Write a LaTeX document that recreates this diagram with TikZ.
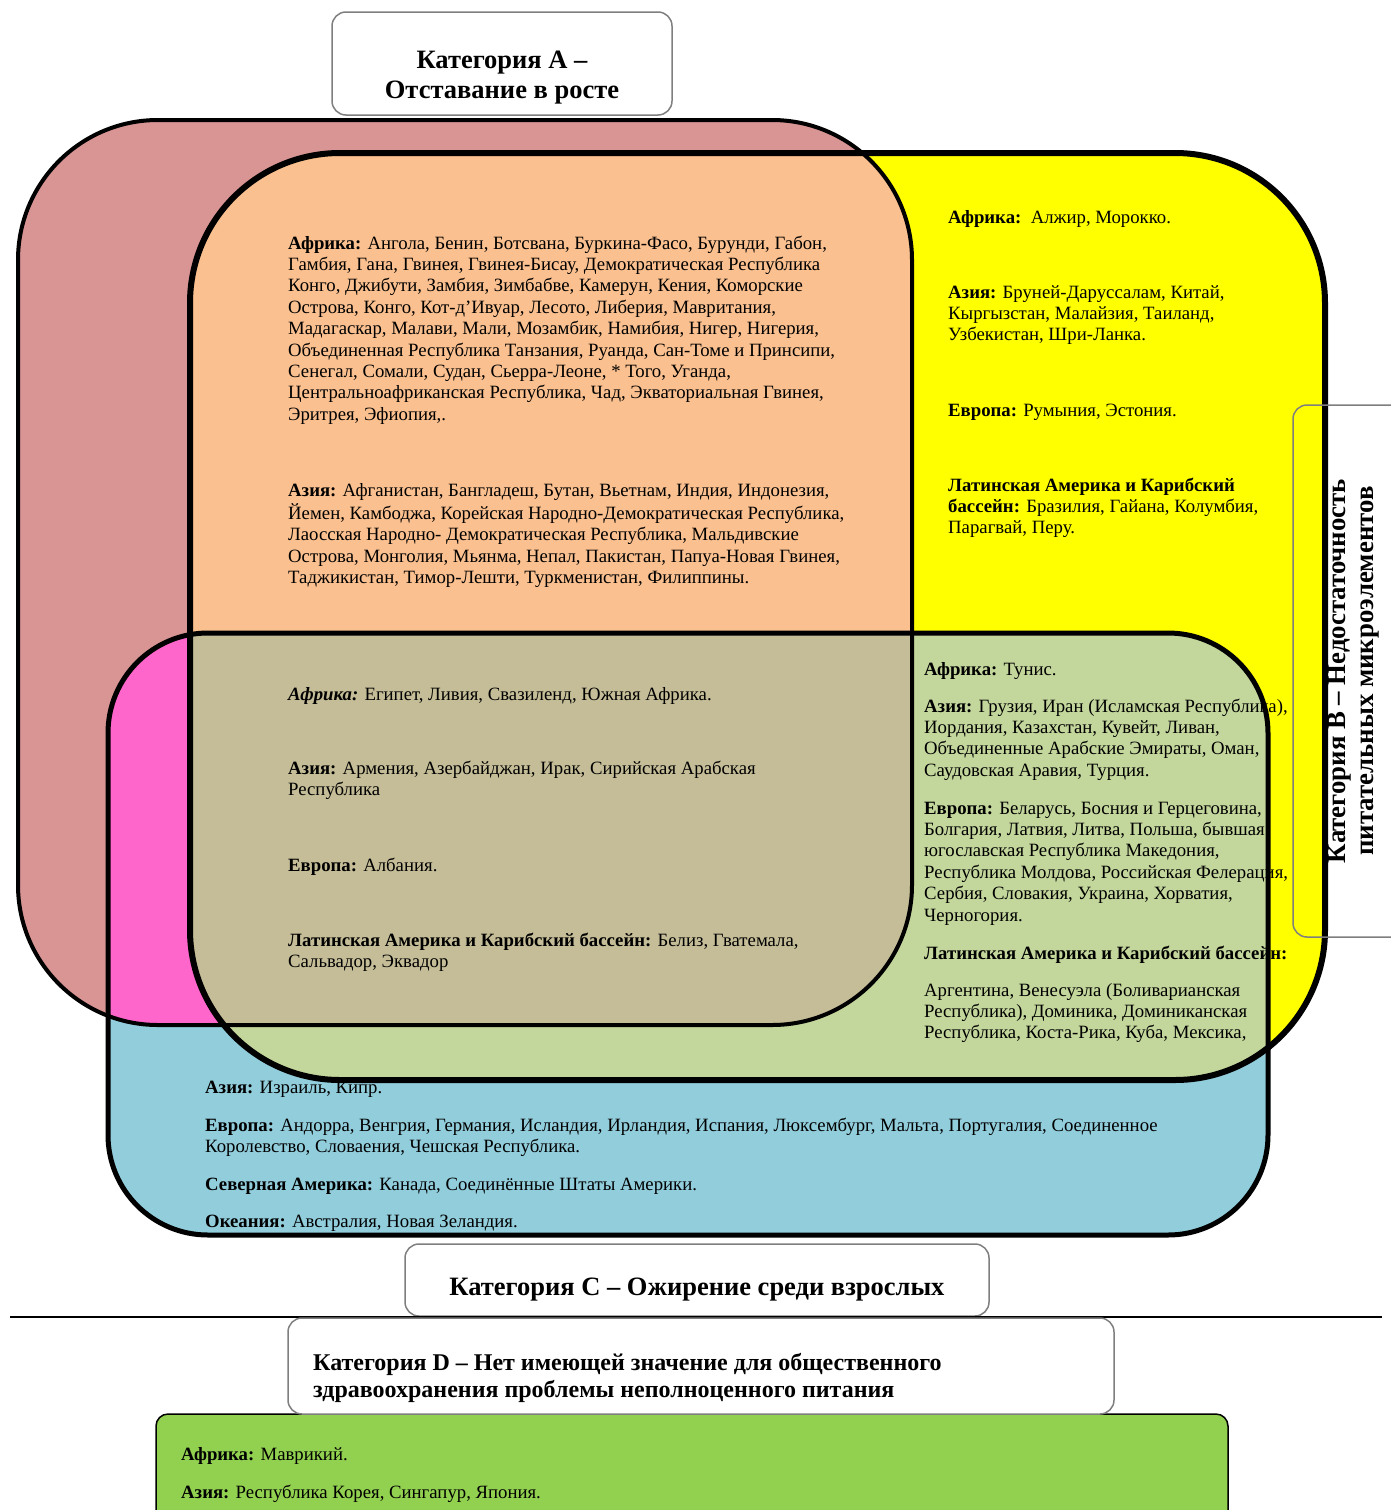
\documentclass[tikz,border=0pt]{standalone}
\usepackage{fontspec}
\setmainfont{Liberation Serif}
\definecolor{roseA}{HTML}{D99594}
\definecolor{orangeAB}{HTML}{FAC08F}
\definecolor{yellowB}{HTML}{FFFF00}
\definecolor{blueC}{HTML}{92CDDC}
\definecolor{magAC}{HTML}{FF66CC}
\definecolor{greenBC}{HTML}{C3D69B}
\definecolor{tanABC}{HTML}{C4BD97}
\definecolor{greenD}{HTML}{92D050}
\definecolor{boxgray}{HTML}{7F7F7F}
\begin{document}
\begin{tikzpicture}[x=1pt,y=-1pt,
  body/.style={anchor=north west, align=left, inner sep=0pt, font=\fontsize{18.75}{21.4}\selectfont},
  head/.style={align=center, inner sep=0pt, font=\fontsize{26.5}{30}\selectfont\bfseries},
  catbox/.style={draw=boxgray, line width=1.5pt, rounded corners=14pt},
  rA/.style={rounded corners=140pt},
  rB/.style={rounded corners=150pt},
  rC/.style={rounded corners=100pt}]
\clip (0,0) rectangle (1391,1510);
\fill[white] (0,0) rectangle (1391,1510);
% base fills
\fill[roseA,rA] (18,120) rectangle (912,1025);
\fill[yellowB,rB] (190,153) rectangle (1325,1080);
\fill[blueC,rC] (108,633) rectangle (1268,1235);
% A and B
\begin{scope}
\clip[rA] (18,120) rectangle (912,1025);
\fill[orangeAB,rB] (190,153) rectangle (1325,1080);
\end{scope}
% A and C
\begin{scope}
\clip[rA] (18,120) rectangle (912,1025);
\fill[magAC,rC] (108,633) rectangle (1268,1235);
\end{scope}
% B and C
\begin{scope}
\clip[rB] (190,153) rectangle (1325,1080);
\fill[greenBC,rC] (108,633) rectangle (1268,1235);
\end{scope}
% A, B and C
\begin{scope}
\clip[rA] (18,120) rectangle (912,1025);
\clip[rB] (190,153) rectangle (1325,1080);
\fill[tanABC,rC] (108,633) rectangle (1268,1235);
\end{scope}

% texts: A and B
\node[body] (abAfr) at (288,234) {\strut\textbf{Африка:} Ангола, Бенин, Ботсвана, Буркина-Фасо, Бурунди, Габон,\\
Гамбия, Гана, Гвинея, Гвинея-Бисау, Демократическая Республика\\
Конго, Джибути, Замбия, Зимбабве, Камерун, Кения, Коморские\\
Острова, Конго, Кот-д’Ивуар, Лесото, Либерия, Мавритания,\\
Мадагаскар, Малави, Мали, Мозамбик, Намибия, Нигер, Нигерия,\\
Объединенная Республика Танзания, Руанда, Сан-Томе и Принсипи,\\
Сенегал, Сомали, Судан, Сьерра-Леоне, * Того, Уганда,\\
Центральноафриканская Республика, Чад, Экваториальная Гвинея,\\
Эритрея, Эфиопия,.};
\node[body] (abAsia) at (288,481) {\strut\textbf{Азия:} Афганистан, Бангладеш, Бутан, Вьетнам, Индия, Индонезия,\\
Йемен, Камбоджа, Корейская Народно-Демократическая Республика,\\
Лаосская Народно- Демократическая Республика, Мальдивские\\
Острова, Монголия, Мьянма, Непал, Пакистан, Папуа-Новая Гвинея,\\
Таджикистан, Тимор-Лешти, Туркменистан, Филиппины.};
% B only
\node[body] (bAfr) at (948,208) {\strut\textbf{Африка:}\ \ Алжир, Морокко.};
\node[body] (bAsia) at (948,283) {\strut\textbf{Азия:} Бруней-Даруссалам, Китай,\\
Кыргызстан, Малайзия, Таиланд,\\
Узбекистан, Шри-Ланка.};
\node[body] (bEur) at (948,401) {\strut\textbf{Европа:} Румыния, Эстония.};
\node[body] (bLat) at (948,476) {\strut\textbf{Латинская Америка и Карибский}\\
\textbf{бассейн:} Бразилия, Гайана, Колумбия,\\
Парагвай, Перу.};
% A, B and C
\node[body] (abcAfr) at (288,685) {\strut\textbf{\itshape Африка:} Египет, Ливия, Свазиленд, Южная Африка.};
\node[body] (abcAsia) at (288,759) {\strut\textbf{Азия:} Армения, Азербайджан, Ирак, Сирийская Арабская\\
Республика};
\node[body] (abcEur) at (288,856) {\strut\textbf{Европа:} Албания.};
\node[body] (abcLat) at (288,931) {\strut\textbf{Латинская Америка и Карибский бассейн:} Белиз, Гватемала,\\
Сальвадор, Эквадор};
% B and C
\node[body] (bcAfr) at (924,660) {\strut\textbf{Африка:} Тунис.};
\node[body] (bcAsia) at (924,697) {\strut\textbf{Азия:} Грузия, Иран (Исламская Республика),\\
Иордания, Казахстан, Кувейт, Ливан,\\
Объединенные Арабские Эмираты, Оман,\\
Саудовская Аравия, Турция.};
\node[body] (bcEur) at (924,799) {\strut\textbf{Европа:} Беларусь, Босния и Герцеговина,\\
Болгария, Латвия, Литва, Польша, бывшая\\
югославская Республика Македония,\\
Республика Молдова, Российская Фелерация,\\
Сербия, Словакия, Украина, Хорватия,\\
Черногория.};
\node[body] (bcLatH) at (924,944) {\strut\textbf{Латинская Америка и Карибский бассейн:}};
\node[body] (bcLat) at (924,981) {\strut Аргентина, Венесуэла (Боливарианская\\
Республика), Доминика, Доминиканская\\
Республика, Коста-Рика, Куба, Мексика,};
% C only
\node[body] (cAsia) at (205,1078) {\strut\textbf{Азия:} Израиль, Кипр.};
\node[body] (cEur) at (205,1116) {\strut\textbf{Европа:} Андорра, Венгрия, Германия, Исландия, Ирландия, Испания, Люксембург, Мальта, Португалия, Соединенное\\
Королевство, Словаения, Чешская Республика.};
\node[body] (cNA) at (205,1175) {\strut\textbf{Северная Америка:} Канада, Соединённые Штаты Америки.};
\node[body] (cOce) at (205,1212) {\strut\textbf{Океания:} Австралия, Новая Зеландия.};

% outlines
\draw[line width=4pt,rA] (18,120) rectangle (912,1025);
\draw[line width=6pt,rB] (190,153) rectangle (1325,1080);
\draw[line width=5pt,rC] (108,633) rectangle (1268,1235);

% category A
\draw[catbox,fill=white] (332,12) rectangle (672,115);
\node[head] (catA) at (502,78) {Категория А –\\Отставание в росте};
% category B
\draw[catbox] (1293,405) rectangle (1430,937);
\node[head,rotate=90,font=\fontsize{26.8}{28}\selectfont\bfseries] (catB) at (1354,671) {Категория В – Недостаточность\\питательных микроэлементов};
% category C
\draw[catbox,fill=white] (405,1244) rectangle (989,1316);
\node[head] (catC) at (697,1290) {Категория С – Ожирение среди взрослых};
% separator
\draw[line width=1.5pt] (10,1317) -- (1382,1317);
% category D
\draw[line width=1.5pt,fill=greenD,rounded corners=12pt] (156,1414) rectangle (1228,1540);
\draw[catbox,fill=white] (288,1318) rectangle (1114,1414);
\node[anchor=west,align=left,inner sep=0pt,font=\fontsize{24}{27}\selectfont\bfseries] (catD) at (313,1378) {Категория D – Нет имеющей значение для общественного\\здравоохранения проблемы неполноценного питания};
\node[body] (dAfr) at (181,1445) {\strut\textbf{Африка:} Маврикий.};
\node[body] (dAsia) at (181,1483) {\strut\textbf{Азия:} Республика Корея, Сингапур, Япония.};
\end{tikzpicture}
\end{document}
